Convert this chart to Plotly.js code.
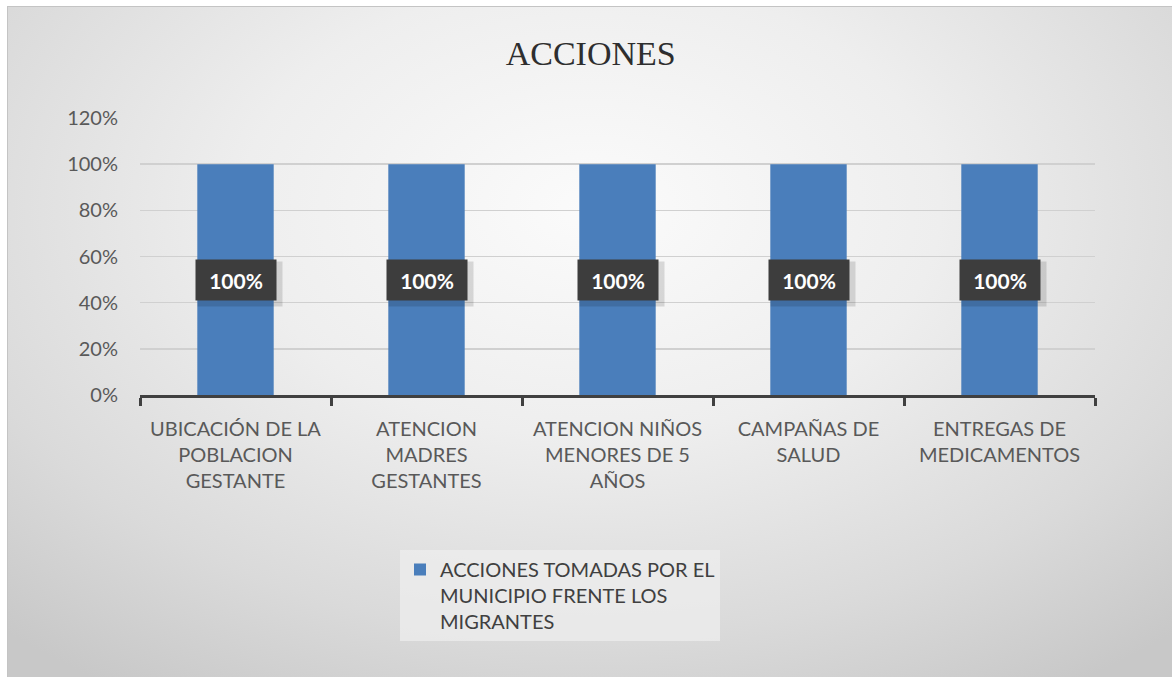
<!DOCTYPE html>
<html>
<head>
<meta charset="utf-8">
<script src="https://cdn.plot.ly/plotly-3.0.1.min.js"></script>
<style>
  html, body { margin: 0; padding: 0; background: #ffffff; width: 1172px; height: 677px; overflow: hidden; }
  #bg { position: absolute; left: 7px; top: 6px; width: 1165px; height: 671px;
        background: radial-gradient(ellipse 75% 85% at 50% 30%, #fbfbfb 0%, #eeeeee 40%, #dadada 75%, #c8c8c8 100%);
        border-top: 1px solid #c4c4c4; border-left: 1px solid #c4c4c4; }
  #chart { position: absolute; left: 0; top: 0; width: 1172px; height: 677px; }
</style>
</head>
<body>
<div id="bg"></div>
<div id="chart"></div>
<script>
const categories = [
  "UBICACIÓN DE LA<br>POBLACION<br>GESTANTE",
  "ATENCION<br>MADRES<br>GESTANTES",
  "ATENCION NIÑOS<br>MENORES DE 5<br>AÑOS",
  "CAMPAÑAS DE<br>SALUD",
  "ENTREGAS DE<br>MEDICAMENTOS"
];
const values = [1.0, 1.0, 1.0, 1.0, 1.0];
const seriesName = "ACCIONES TOMADAS POR EL<br>MUNICIPIO FRENTE LOS<br>MIGRANTES";
const titleText = "ACCIONES";

const labelFont = "Lato, 'Open Sans', 'Liberation Sans', sans-serif";

const trace = {
  type: "bar",
  x: categories,
  y: values,
  name: seriesName,
  width: 0.4,
  marker: { color: "#4a7ebb" },
  showlegend: true,
  hoverinfo: "skip"
};

const shadowAnn = categories.map((c, i) => ({
  x: c, y: values[i] / 2, xref: "x", yref: "y",
  text: "", showarrow: false,
  width: 82, height: 42,
  xshift: 4, yshift: -4,
  bgcolor: "rgba(0,0,0,0.13)"
}));
const labelAnn = categories.map((c, i) => ({
  x: c, y: values[i] / 2, xref: "x", yref: "y",
  text: "<b>" + Math.round(values[i] * 100) + "%</b>",
  showarrow: false,
  width: 78, height: 38,
  bgcolor: "#3d3d3d",
  font: { family: labelFont, size: 21, color: "#ffffff" }
}));

const layout = {
  width: 1172, height: 677,
  paper_bgcolor: "rgba(0,0,0,0)",
  plot_bgcolor: "rgba(0,0,0,0)",
  margin: { l: 140, r: 77, t: 118, b: 282, autoexpand: false },
  title: {
    text: titleText,
    font: { family: "'Liberation Serif', 'DejaVu Serif', serif", size: 34, color: "#2e2e2e" },
    xref: "container", yref: "container",
    x: 0.504, y: 0.922, xanchor: "center", yanchor: "middle"
  },
  xaxis: {
    type: "category",
    automargin: false,
    tickangle: 0,
    showline: true, linecolor: "#404040", linewidth: 3,
    ticks: "outside", tickson: "boundaries", ticklen: 8, tickwidth: 3, tickcolor: "#404040",
    ticklabelstandoff: 14,
    tickfont: { family: labelFont, size: 20, color: "#595959" },
    showgrid: false,
    fixedrange: true
  },
  yaxis: {
    automargin: false,
    range: [0, 1.2], dtick: 0.2, tickformat: ".0%",
    showgrid: true, gridcolor: "#d0d0d0", gridwidth: 1.5,
    zeroline: false, showline: false,
    ticklabelstandoff: 21,
    tickfont: { family: labelFont, size: 20, color: "#595959" },
    fixedrange: true
  },
  showlegend: true,
  legend: {
    xref: "paper", yref: "paper",
    x: (400 - 140) / 955, y: (395 - 550) / 277, xanchor: "left", yanchor: "top",
    bgcolor: "rgba(238,238,238,0.75)",
    font: { family: labelFont, size: 20, color: "#404040" },
    valign: "top",
    itemwidth: 30,
    tracegroupgap: 0
  },
  annotations: shadowAnn.concat(labelAnn)
};

Plotly.newPlot("chart", [trace], layout, { displayModeBar: false, staticPlot: true });
</script>
</body>
</html>
